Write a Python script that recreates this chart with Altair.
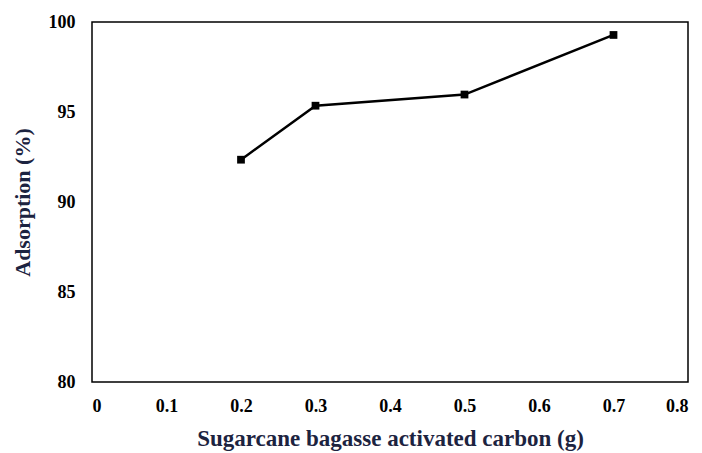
import altair as alt
import pandas as pd

mass_g = [0.2, 0.3, 0.5, 0.7]
adsorption_pct = [92.35, 95.35, 95.97, 99.28]

df = pd.DataFrame({"mass": mass_g, "ads": adsorption_pct})

FONT = "Liberation Serif"
TITLE_COLOR = "#1c2340"

x = alt.X("mass:Q", scale=alt.Scale(domain=[0, 0.8], nice=False),
          axis=alt.Axis(title="Sugarcane bagasse activated carbon (g)",
                        values=[0, 0.1, 0.2, 0.3, 0.4, 0.5, 0.6, 0.7, 0.8],
                        labelExpr="datum.value == 0 ? '0' : format(datum.value, '.1f')",
                        grid=False, ticks=False, domain=False,
                        labelFont=FONT, labelFontSize=18, labelFontWeight="bold", labelColor="black",
                        labelPadding=15, titleFont=FONT, titleFontSize=23, titleFontWeight="bold",
                        titleColor=TITLE_COLOR, titlePadding=12))
y = alt.Y("ads:Q", scale=alt.Scale(domain=[80, 100], nice=False, zero=False),
          axis=alt.Axis(title="Adsorption (%)", values=[80, 85, 90, 95, 100],
                        grid=False, ticks=False, domain=False,
                        labelFont=FONT, labelFontSize=18, labelFontWeight="bold", labelColor="black",
                        labelPadding=17, titleFont=FONT, titleFontSize=22, titleFontWeight="bold",
                        titleColor=TITLE_COLOR, titlePadding=14))

line = alt.Chart(df).mark_line(color="black", strokeWidth=2.5).encode(x=x, y=y)
pts = alt.Chart(df).mark_point(shape="square", filled=True, color="black", opacity=1, size=60).encode(x=x, y=y)

chart = (line + pts).properties(
    width=596, height=360,
    autosize=alt.AutoSizeParams(type="none"),
    padding={"left": 84, "top": 14, "right": 6, "bottom": 72},
).configure_view(stroke="black", strokeWidth=1.5)

chart.save("out.html", embed_options={"renderer": "svg", "actions": False})
